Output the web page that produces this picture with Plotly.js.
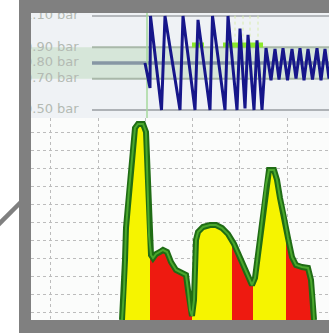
<!DOCTYPE html>
<html><head><meta charset="utf-8">
<script src="https://cdn.plot.ly/plotly-3.0.1.min.js"></script>
<style>html,body{margin:0;padding:0;background:#fff;overflow:hidden}#c{width:329px;height:333px}</style>
</head><body><div id="c"></div><script>
// ---- top panel: pressure trace (time in s, pressure in bar)
const pressT   = [-0.2, 0.3, 0.35, 1.45, 1.8, 3.3, 3.6, 4.8, 5.1, 6.3, 6.55, 7.8, 8.1, 9.0, 9.3, 9.8, 10.1, 10.7, 11.0, 11.5,
                  11.9, 12.4, 12.8, 13.2, 13.6, 14.05, 14.5, 14.9, 15.3, 15.7, 16.1, 16.55, 17.0, 17.4, 17.8, 18.2];
const pressBar = [0.80, 0.64, 1.10, 0.50, 1.10, 0.50, 1.10, 0.50, 1.075, 0.50, 1.10, 0.50, 1.10, 0.50, 1.02, 0.51, 0.98, 0.50, 0.945, 0.50,
                  0.895, 0.69, 0.89, 0.695, 0.895, 0.69, 0.89, 0.70, 0.895, 0.69, 0.89, 0.695, 0.895, 0.69, 0.89, 0.70];
const levelBars   = [1.10, 0.90, 0.80, 0.70, 0.50];
const levelLabels = ["1.10 bar", "0.90 bar", "0.80 bar", "0.70 bar", "0.50 bar"];
const bandLow = 0.70, bandHigh = 0.90;
const startTime = 0.0;
const okSegStart = [4.5, 7.6];
const okSegEnd   = [5.7, 11.6];
const okSegBar   = 0.915;
const tickTimes  = [8.1, 8.8, 9.6, 10.3, 11.1];

// ---- bottom panel: spectrum envelope
const specF = [9.1, 9.3, 9.4, 9.5, 9.8, 10.1, 10.4, 10.7, 11.2, 11.5, 11.6, 11.7, 11.8, 12.0, 12.2, 12.5, 12.9, 13.2, 13.6, 14.0,
               14.5, 15.1, 15.5, 15.7, 15.9, 16.1, 16.3, 16.4, 16.5, 16.7, 17.2, 17.9, 18.5, 19.1, 19.7, 20.3, 20.8, 21.3, 21.7,
               22.1, 22.4, 22.7, 23.1, 23.5, 23.8, 24.3, 24.6, 24.9, 25.3, 25.7, 26.1, 26.5, 27.1, 27.7, 28.0, 28.2, 28.3];
const specV = [0, 15, 30, 46, 65, 82.5, 96, 98, 98, 94, 80, 60, 42.5, 32.5, 31, 33, 34, 35, 34, 29,
               25, 23.5, 22.5, 15, 5, 2, 10, 25, 40, 44, 46.5, 47.5, 47.5, 46, 43, 38, 32.5, 27, 22,
               17.5, 21, 32.5, 50, 67.5, 75, 75, 70, 61, 52.5, 41, 31.5, 27.5, 26.5, 26, 20, 10, 0];
const redStart = [11.9, 20.1, 25.5];
const redEnd   = [16.1, 22.2, 28.3];

// ---- helpers
function envAt(f){
  for(let i=0;i<specF.length-1;i++){
    if(f>=specF[i] && f<=specF[i+1]){
      const r=(f-specF[i])/(specF[i+1]-specF[i]);
      return specV[i]+r*(specV[i+1]-specV[i]);
    }
  }
  return 0;
}
const traces = [];
const TX = {xaxis:'x', yaxis:'y'}, BX = {xaxis:'x2', yaxis:'y2'};
const TR = [-11.6, 18.2], YT = [0.449, 1.119];

// band
traces.push(Object.assign({type:'scatter', mode:'lines', x:[TR[0]-1, TR[1]+1, TR[1]+1, TR[0]-1], y:[bandHigh,bandHigh,bandLow,bandLow],
  fill:'toself', fillcolor:'rgba(165,205,160,0.33)', line:{width:0}}, TX));
// level lines
const lvColors = ['#b4b8bc', '#a9b8a9', '#8797a4', '#a9b8a9', '#aeb2b6'];
const lvWidths = [2, 2, 3.5, 2, 2];
levelBars.forEach((b,i)=>traces.push(Object.assign({type:'scatter', mode:'lines', x:[-5.5, TR[1]+1], y:[b,b],
  line:{color:lvColors[i], width:lvWidths[i]}}, TX)));
// start marker
traces.push(Object.assign({type:'scatter', mode:'lines', x:[startTime,startTime], y:YT, line:{color:'#a6d89c', width:1.5}}, TX));
// dotted ticks
tickTimes.forEach(t=>traces.push(Object.assign({type:'scatter', mode:'lines', x:[t,t], y:[0.93, YT[1]],
  line:{color:'#d9ecae', width:1, dash:'dot'}}, TX)));
// ok segments
okSegStart.forEach((s,i)=>traces.push(Object.assign({type:'scatter', mode:'lines', x:[s, okSegEnd[i]], y:[okSegBar, okSegBar],
  line:{color:'#8ae82a', width:5}}, TX)));
// wave
traces.push(Object.assign({type:'scatter', mode:'lines', x:pressT, y:pressBar, line:{color:'#16168a', width:3}}, TX));
// labels
traces.push(Object.assign({type:'scatter', mode:'text', x:levelBars.map(()=>-12.3), y:levelBars, text:levelLabels,
  textposition:'middle right', textfont:{family:'DejaVu Sans', size:13, color:'#b3bab3'}, cliponaxis:true}, TX));

// bottom: yellow fill
traces.push(Object.assign({type:'scatter', mode:'lines', x:specF, y:specV, fill:'tozeroy', fillcolor:'#f6f400', line:{width:0}}, BX));
// red regions
redStart.forEach((a,k)=>{
  const b=redEnd[k]; const xs=[a,a], ys=[0,envAt(a)];
  specF.forEach((f,i)=>{ if(f>a && f<b){ xs.push(f); ys.push(specV[i]); } });
  xs.push(b,b); ys.push(envAt(b),0);
  traces.push(Object.assign({type:'scatter', mode:'lines', x:xs, y:ys, fill:'toself', fillcolor:'#ee1a10', line:{width:0}}, BX));
});
// outline
traces.push(Object.assign({type:'scatter', mode:'lines', x:specF, y:specV, line:{color:'#1f6c14', width:6}}, BX));
traces.push(Object.assign({type:'scatter', mode:'lines', x:specF, y:specV, line:{color:'#4aa82c', width:2}}, BX));

const dTop = 202/307;
const gray = '#808080';
const layout = {
  width:329, height:333, margin:{l:31, r:0, t:13, b:13, pad:0},
  paper_bgcolor:'#ffffff', plot_bgcolor:'rgba(0,0,0,0)', showlegend:false, hovermode:false,
  xaxis:{domain:[0,1], range:TR, anchor:'y', showgrid:false, zeroline:false, showticklabels:false, ticks:'', showline:false},
  yaxis:{domain:[dTop,1], range:YT, anchor:'x', showgrid:false, zeroline:false, showticklabels:false, ticks:'', showline:false},
  xaxis2:{domain:[0,1], range:[0,29.8], anchor:'y2', showgrid:true, gridcolor:'#bcbcbc', griddash:'dot', gridwidth:1,
          tick0:6.7, dtick:4.725, zeroline:false, showticklabels:false, ticks:'', showline:false},
  yaxis2:{domain:[0,dTop], range:[0,101], anchor:'x2', showgrid:true, gridcolor:'#bcbcbc', griddash:'dot', gridwidth:1,
          tick0:4, dtick:9, zeroline:false, showticklabels:false, ticks:'', showline:false},
  shapes:[
    {type:'rect', xref:'paper', yref:'paper', x0:0, x1:1, y0:dTop, y1:1, fillcolor:'#eff2f5', line:{width:0}, layer:'below'},
    {type:'rect', xref:'paper', yref:'paper', x0:0, x1:1, y0:0, y1:dTop, fillcolor:'#fbfcfb', line:{width:0}, layer:'below'},
    {type:'rect', xref:'paper', yref:'paper', x0:-12/298, x1:0, y0:-0.05, y1:1.05, fillcolor:gray, line:{width:0}, layer:'above'},
    {type:'rect', xref:'paper', yref:'paper', x0:-12/298, x1:1.01, y0:1, y1:1.05, fillcolor:gray, line:{width:0}, layer:'above'},
    {type:'rect', xref:'paper', yref:'paper', x0:-12/298, x1:1.01, y0:-0.05, y1:0, fillcolor:gray, line:{width:0}, layer:'above'},
    {type:'line', xref:'paper', yref:'paper', x0:-34/298, y0:(320-226)/307, x1:-10/298, y1:(320-202)/307, line:{color:gray, width:4.5}, layer:'above'}
  ]
};
Plotly.newPlot('c', traces, layout, {staticPlot:true, displayModeBar:false});
</script></body></html>
